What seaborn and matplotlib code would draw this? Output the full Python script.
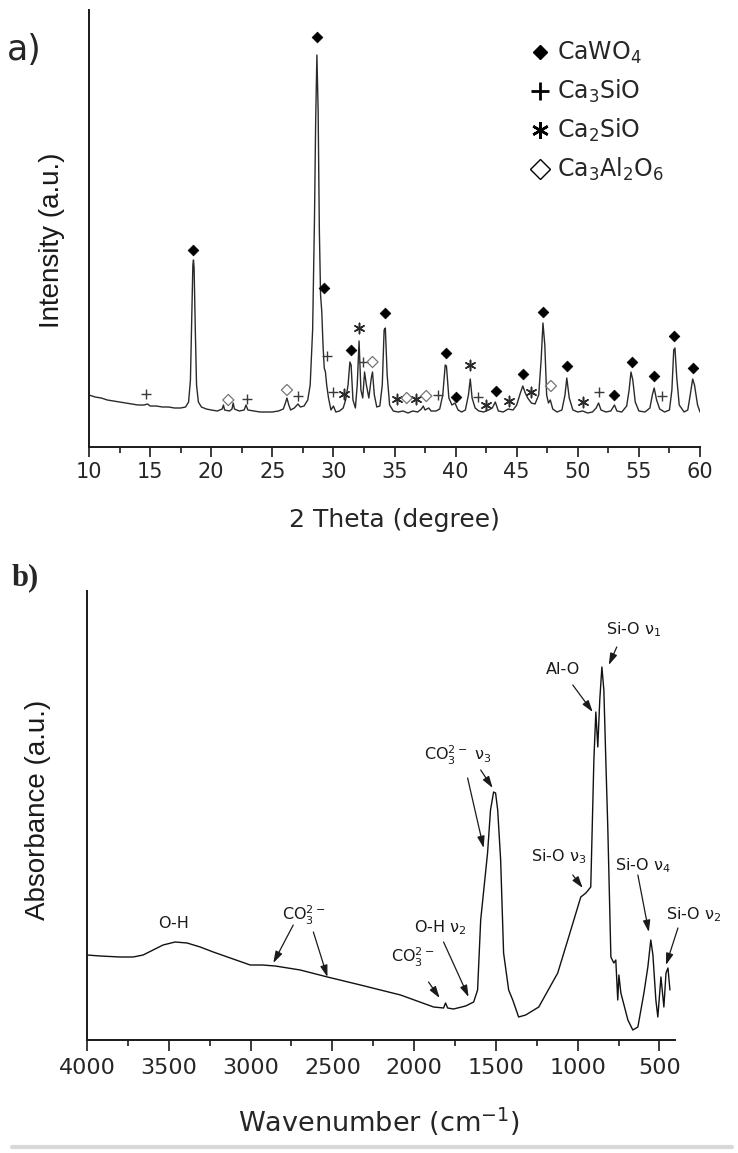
import numpy as np
import pandas as pd
import matplotlib
matplotlib.use("Agg")
import matplotlib.pyplot as plt
from matplotlib.lines import Line2D
from matplotlib.ticker import MultipleLocator
import seaborn as sns

# ---------------- data: panel a (XRD) ----------------
xrd_theta = [10.0, 10.5, 11.0, 11.5, 12.0, 12.5, 13.0, 13.5, 14.0, 14.5, 14.8, 15.0, 15.5, 16.0,
             16.5, 17.0, 17.5, 17.9, 18.15, 18.3, 18.4, 18.5, 18.55, 18.6, 18.7, 18.8, 18.95,
             19.2, 19.6, 20.0, 20.5, 20.9, 21.0, 21.1, 21.5, 21.7, 21.8, 21.9, 22.3, 22.7, 22.85,
             23.0, 23.5, 24.0, 24.5, 25.0, 25.5, 25.9, 26.1, 26.2, 26.35, 26.5, 26.8, 27.1, 27.3,
             27.6, 27.9, 28.1, 28.3, 28.45, 28.55, 28.65, 28.75, 28.85, 28.95, 29.05, 29.15, 29.25,
             29.35, 29.45, 29.6, 29.8, 30.0, 30.2, 30.5, 30.8, 31.0, 31.2, 31.35, 31.45, 31.6, 31.8,
             31.95, 32.1, 32.25, 32.4, 32.55, 32.7, 32.9, 33.1, 33.2, 33.35, 33.55, 33.8, 34.0,
             34.15, 34.25, 34.4, 34.6, 34.9, 35.3, 35.7, 36.1, 36.5, 36.9, 37.2, 37.35, 37.5, 37.8,
             38.0, 38.4, 38.7, 38.95, 39.15, 39.25, 39.45, 39.7, 39.95, 40.2, 40.5, 40.8, 41.05,
             41.2, 41.35, 41.6, 41.9, 42.3, 42.7, 43.0, 43.25, 43.5, 43.9, 44.3, 44.7, 45.0, 45.3,
             45.5, 45.7, 45.9, 46.2, 46.5, 46.8, 47.0, 47.15, 47.3, 47.45, 47.6, 47.75, 47.95, 48.3,
             48.7, 48.95, 49.1, 49.3, 49.6, 50.0, 50.4, 50.8, 51.2, 51.5, 51.7, 51.9, 52.3, 52.7,
             53.0, 53.2, 53.6, 54.0, 54.2, 54.35, 54.5, 54.7, 55.0, 55.5, 55.9, 56.1, 56.25, 56.45,
             56.7, 57.1, 57.5, 57.7, 57.85, 57.95, 58.1, 58.3, 58.7, 59.0, 59.2, 59.4, 59.55, 59.8,
             60.0]
xrd_intensity = [52, 50, 49, 47, 46, 45, 44, 43, 42, 42, 43, 41, 41, 40,
                 40, 39, 39, 40, 45, 67, 127, 182, 187, 179, 117, 62, 45,
                 40, 38, 37, 36, 38, 42, 37, 36, 38, 44, 38, 36, 37, 42,
                 37, 36, 35, 35, 35, 36, 38, 45, 49, 42, 37, 39, 43, 40,
                 41, 47, 62, 117, 227, 327, 392, 337, 217, 152, 135, 102, 79,
                 75, 62, 49, 37, 41, 35, 36, 39, 47, 62, 85, 82, 47, 39,
                 62, 106, 57, 49, 75, 62, 49, 69, 75, 52, 40, 41, 62,
                 117, 119, 72, 42, 36, 35, 36, 34, 36, 35, 38, 41, 37, 39,
                 36, 36, 38, 52, 82, 81, 49, 42, 44, 37, 35, 37, 52,
                 68, 49, 39, 36, 35, 37, 39, 45, 36, 35, 38, 37, 42, 54,
                 61, 54, 49, 44, 43, 52, 87, 124, 102, 52, 44, 47, 38, 35,
                 37, 52, 69, 49, 37, 35, 36, 34, 35, 39, 44, 37, 35, 36,
                 42, 36, 35, 41, 57, 75, 67, 45, 36, 35, 39, 52, 59, 47,
                 38, 35, 37, 57, 97, 99, 69, 42, 35, 37, 52, 68, 62, 42,
                 35]

# phase markers (2theta, height)
cawo4_theta = [18.55, 28.65, 29.25, 31.4, 34.2, 39.2, 40.0, 43.3, 45.5, 47.15, 49.1, 53.0, 54.4, 56.2, 57.9, 59.45]
cawo4_height = [197, 410, 159, 97, 134, 94, 50, 56, 73, 135, 81, 52, 85, 71, 111, 79]
c3s_theta = [14.7, 22.9, 27.1, 29.5, 30.0, 32.4, 38.6, 41.8, 51.7, 56.9]
c3s_height = [53, 48, 51, 91, 55, 85, 52, 50, 55, 51]
c2s_theta = [30.9, 32.1, 35.2, 36.8, 41.2, 42.5, 44.4, 46.2, 50.4]
c2s_height = [53, 119, 48, 48, 82, 42, 46, 55, 45]
c3a_theta = [21.4, 26.2, 33.2, 36.0, 37.6, 47.8]
c3a_height = [47, 57, 85, 49, 51, 61]
phase_labels = ["CaWO$_4$", "Ca$_3$SiO", "Ca$_2$SiO", "Ca$_3$Al$_2$O$_6$"]
xrd_ticks = [10, 15, 20, 25, 30, 35, 40, 45, 50, 55, 60]

# ---------------- data: panel b (FTIR) ----------------
ftir_wavenumber = [4000, 3920, 3798, 3718, 3657, 3596, 3535, 3461, 3388, 3308, 3228, 3124, 3002,
                   2928, 2849, 2696, 2530, 2328, 2083, 1881, 1820, 1808, 1795, 1759, 1685, 1636,
                   1612, 1593, 1551, 1533, 1514, 1502, 1489, 1471, 1453, 1422, 1397, 1361, 1318,
                   1238, 1122, 1042, 981, 950, 920, 901, 889, 877, 865, 852, 840, 828, 816, 797,
                   779, 767, 755, 748, 736, 693, 663, 632, 595, 571, 553, 540, 522, 510, 491, 473,
                   460, 448, 436]
ftir_absorbance = [85, 84, 83, 83, 85, 90, 95, 98, 97, 93, 88, 82, 75,
                   75, 74, 70, 63, 55, 45, 33, 32, 37, 32, 31, 34, 38,
                   50, 120, 187, 230, 248, 247, 230, 180, 87, 50, 40, 23, 25,
                   33, 67, 110, 143, 147, 153, 280, 328, 293, 340, 373, 350, 280, 213, 83,
                   77, 80, 40, 65, 47, 20, 10, 13, 47, 73, 100, 85, 40, 23, 63, 33,
                   67, 72, 50]
ftir_ticks = [4000, 3500, 3000, 2500, 2000, 1500, 1000, 500]

# annotations: label, text position (wn, A), arrows [(tail, head), ...]
ftir_notes = [
    ("O-H", (3473, 117), []),
    ("CO$_3^{2-}$", (2677, 125), [((2739, 115), (2861, 77)), ((2616, 108), (2530, 63))]),
    ("CO$_3^{2-}$", (2010, 83), [((1912, 58), (1844, 42))]),
    ("O-H ν$_2$", (1838, 112), [((1820, 98), (1667, 43))]),
    ("CO$_3^{2-}$ ν$_3$", (1734, 285), [((1673, 262), (1575, 192)), ((1593, 270), (1520, 252))]),
    ("Al-O", (1091, 370), [((1030, 355), (908, 328))]),
    ("Si-O ν$_1$", (657, 410), [((761, 393), (810, 375))]),
    ("Si-O ν$_3$", (1116, 183), [((1030, 165), (969, 152))]),
    ("Si-O ν$_4$", (601, 174), [((632, 165), (565, 108))]),
    ("Si-O ν$_2$", (289, 125), [((387, 112), (460, 75))]),
]

# ---------------- style ----------------
sns.set_style("ticks")
plt.rcParams["font.family"] = ["DejaVu Sans"]
plt.rcParams["mathtext.fontset"] = "dejavusans"

W, H = 738, 1153
fig = plt.figure(figsize=(W / 100, H / 100), dpi=100)


def px_axes(l, t, r, b):
    return fig.add_axes([l / W, 1 - b / H, (r - l) / W, (b - t) / H])


ax1 = px_axes(89, 10, 700, 447)
ax2 = px_axes(87, 591, 675, 1040)

for ax in (ax1, ax2):
    for s in ("top", "right"):
        ax.spines[s].set_visible(False)
    for s in ("left", "bottom"):
        ax.spines[s].set_linewidth(1.4)
        ax.spines[s].set_color("#1a1a1a")
    ax.tick_params(axis="y", left=False, labelleft=False)
    ax.tick_params(axis="x", which="major", direction="out", length=7, width=1.2,
                   color="#1a1a1a", pad=4)
    ax.tick_params(axis="x", which="minor", direction="out", length=4, width=1.2,
                   color="#1a1a1a")
    ax.set_facecolor("white")

# ---------------- panel a ----------------
df_xrd = pd.DataFrame({"theta": xrd_theta, "intensity": xrd_intensity})
sns.lineplot(data=df_xrd, x="theta", y="intensity", ax=ax1, color="#2a2a2a",
             linewidth=1.0, sort=False, estimator=None)
sns.scatterplot(x=cawo4_theta, y=cawo4_height, ax=ax1, marker="D", s=30, color="black",
                edgecolor="black", linewidth=0.5, zorder=4, legend=False)
sns.scatterplot(x=c3s_theta, y=c3s_height, ax=ax1, marker="+", s=45, color="#3a3a3a",
                linewidth=1.0, zorder=4, legend=False)
sns.scatterplot(x=c2s_theta, y=c2s_height, ax=ax1, marker=(6, 2, 0), s=55, color="#2a2a2a",
                linewidth=1.1, zorder=4, legend=False)
ax1.scatter(c3a_theta, c3a_height, marker="D", s=32, facecolors="none",
            edgecolors="#777777", linewidths=0.9, zorder=4)

ax1.set_xlim(10, 60)
ax1.set_ylim(0, 437)
ax1.set_xticks(xrd_ticks)
ax1.set_xticklabels([str(t) for t in xrd_ticks], fontsize=15)
ax1.xaxis.set_minor_locator(MultipleLocator(2.5))
ax1.set_xlabel("2 Theta (degree)", fontsize=18, va="center")
ax1.xaxis.set_label_coords(0.5, (447 - 520) / 437)
ax1.set_ylabel("")
fig.text(52 / W, 1 - 240 / H, "Intensity (a.u.)", fontsize=20, family="Liberation Sans",
         rotation=90, ha="center", va="center", color="#1a1a1a")

handles = [
    Line2D([], [], ls="none", marker="D", ms=7, color="black"),
    Line2D([], [], ls="none", marker="+", ms=13, mew=2.0, color="black"),
    Line2D([], [], ls="none", marker=(6, 2, 0), ms=12, mew=1.8, color="black"),
    Line2D([], [], ls="none", marker="D", ms=10, mfc="none", mec="black", mew=1.0),
]
ax1.legend(handles, phase_labels, loc="upper left", bbox_to_anchor=(533 / W, 1 - 40 / H),
           bbox_transform=fig.transFigure, frameon=False, fontsize=17, handlelength=0.6,
           handletextpad=0.4, labelspacing=0.5, borderpad=0, borderaxespad=0)

# ---------------- panel b ----------------
df_ftir = pd.DataFrame({"wn": ftir_wavenumber, "abs": ftir_absorbance})
sns.lineplot(data=df_ftir, x="wn", y="abs", ax=ax2, color="#111111", linewidth=1.0,
             sort=False, estimator=None)
ax2.set_xlim(4000, 405)
ax2.set_ylim(0, 449)
ax2.set_xticks(ftir_ticks)
ax2.set_xticklabels([str(t) for t in ftir_ticks], fontsize=16)
ax2.xaxis.set_minor_locator(MultipleLocator(250))
ax2.tick_params(axis="x", which="major", length=8, pad=5)
ax2.set_xlabel("Wavenumber (cm$^{-1}$)", fontsize=19.5, va="center")
ax2.xaxis.set_label_coords((379 - 87) / 588, (1040 - 1122) / 449)
ax2.set_ylabel("")
fig.text(38.5 / W, 1 - 810 / H, "Absorbance (a.u.)", fontsize=20, family="Liberation Sans",
         rotation=90, ha="center", va="center", color="#1a1a1a")

for label, pos, arrows in ftir_notes:
    ax2.text(pos[0], pos[1], label, fontsize=11.5, ha="center", va="center",
             color="#1a1a1a", clip_on=False)
    for tail, head in arrows:
        ax2.annotate("", xy=head, xytext=tail,
                     arrowprops=dict(arrowstyle="-|>,head_length=0.7,head_width=0.22",
                                     color="#1a1a1a", lw=0.9, shrinkA=0, shrinkB=0,
                                     mutation_scale=10))

# panel letters
fig.text(24 / W, 1 - 50 / H, "a)", fontsize=25, family="Liberation Sans Narrow",
         ha="center", va="center")
fig.text(25 / W, 1 - 578 / H, "b)", fontsize=22, family="Liberation Serif",
         fontweight="bold", ha="center", va="center")

# light separator at the bottom
fig.add_artist(Line2D([12 / W, 732 / W], [1 - 1146.5 / H, 1 - 1146.5 / H],
                      color="#d8d8d8", lw=3, transform=fig.transFigure))

fig.savefig("out.png", dpi=100)
